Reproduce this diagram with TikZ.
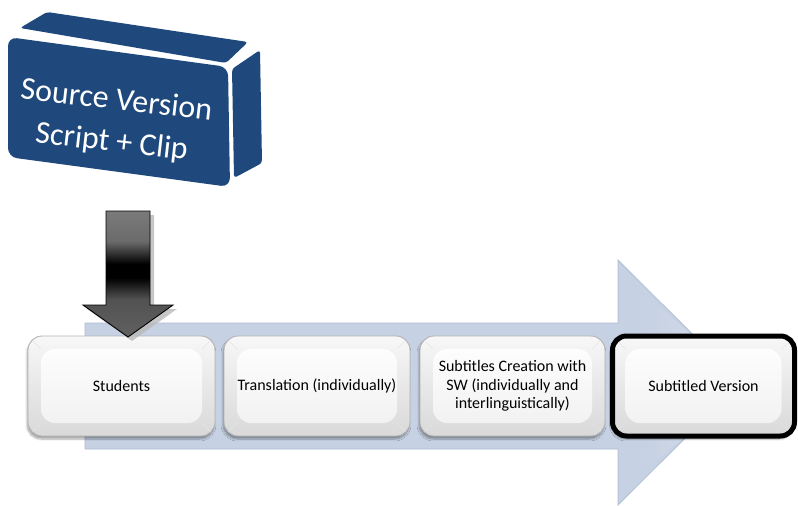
\documentclass[tikz,border=0pt]{standalone}
\usepackage{fontspec}
\setmainfont{Carlito}
\usetikzlibrary{calc,shadows.blur}
\definecolor{blockblue}{RGB}{31,73,125}
\definecolor{arrowblue}{RGB}{198,209,227}
\definecolor{arrowedge}{RGB}{176,189,212}
\pgfdeclareverticalshading{downarrowshade}{100bp}{color(0bp)=(black!62); color(25bp)=(black!62); color(40bp)=(black!68); color(48.5bp)=(black); color(54bp)=(black); color(63bp)=(black!58); color(75bp)=(black!52); color(100bp)=(black!52)}
\tikzset{
  stepbox/.style={rounded corners=14pt, draw=gray!60, line width=0.9pt,
    top color=gray!6, bottom color=gray!30, minimum height=100pt,
    align=center, font=\fontsize{16}{18.5}\selectfont,
    blur shadow={shadow xshift=-1pt, shadow yshift=-3pt, shadow blur steps=6, shadow opacity=35},
    path picture={
      \shade[top color=white, bottom color=gray!12]
        ($(path picture bounding box.north west)+(13,13)$) rectangle
        ($(path picture bounding box.south east)+(-13,-13)$);
      \draw[gray!20, line width=0.6pt]
        (path picture bounding box.north west) -- +(13,13)
        (path picture bounding box.north east) -- +(-13,13)
        (path picture bounding box.south west) -- +(13,-13)
        (path picture bounding box.south east) -- +(-13,-13);
    }},
  finalbox/.style={stepbox, draw=black, line width=5pt},
  blockface/.style={fill=blockblue, draw=none},
}
\begin{document}
\begin{tikzpicture}[x=1pt,y=-1pt]
\useasboundingbox (0,0) rectangle (798,506);
% big process arrow
\path[fill=arrowblue, draw=arrowedge, line width=0.8pt]
  (85,323) -- (618,323) -- (618,260) -- (741,382.5) -- (618,505) -- (618,449) -- (85,449) -- cycle;
\shade[left color=arrowblue, right color=arrowblue!70!white, opacity=0.6]
  (640,290) -- (700,342) -- (700,423) -- (640,475) -- cycle;
% step boxes
\node[stepbox, minimum width=187pt] (s1) at (121.5,386) {Students};
\node[stepbox, minimum width=186pt] (s2) at (317,386) {Translation (individually)};
\node[stepbox, minimum width=185pt] (s3) at (512.5,386) {Subtitles Creation with\\SW (individually and\\interlinguistically)};
\node[finalbox, minimum width=182pt] (s4) at (703.5,386) {Subtitled Version};
% down arrow (shadow + body)
\path[fill=gray!55, opacity=0.8, shift={(4,4)}]
  (106,211) -- (150,211) -- (150,305) -- (173,305) -- (128,337) -- (83,305) -- (106,305) -- cycle;
\shade[shading=downarrowshade]
  (106,211) -- (150,211) -- (150,305) -- (173,305) -- (128,337) -- (83,305) -- (106,305) -- cycle;
\draw[black, line width=0.9pt]
  (106,211) -- (150,211) -- (150,305) -- (173,305) -- (128,337) -- (83,305) -- (106,305) -- cycle;
% 3D source block
\path[blockface, rounded corners=3pt] (20,28) -- (47,12) -- (248,42) -- (226,63) -- cycle;
\path[blockface, rounded corners=3pt] (232,69) -- (260,50) -- (262,163) -- (234,178) -- cycle;
\path[blockface, rounded corners=9pt] (8,37) -- (228,67) -- (230,187) -- (8,157) -- cycle;
\node[text=white, align=center, rotate=-6.5, font=\fontsize{32}{42}\selectfont]
  (src) at (114,122) {Source Version\\Script + Clip};
\end{tikzpicture}
\end{document}
